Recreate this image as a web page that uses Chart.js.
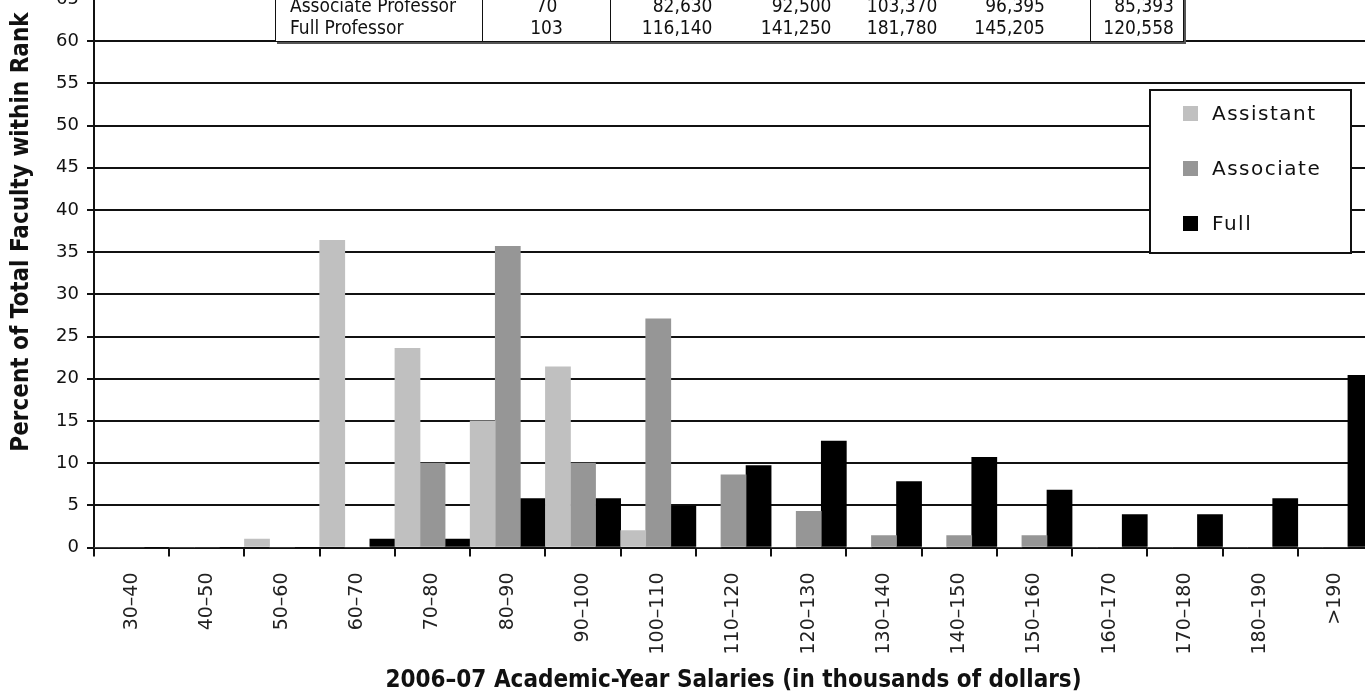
<!DOCTYPE html>
<html>
<head>
<meta charset="utf-8">
<script src="https://cdn.jsdelivr.net/npm/chart.js@4.4.1/dist/chart.umd.min.js"></script>
<style>
  body { margin: 0; background: #fff; overflow: hidden; width: 1365px; height: 695px; position: relative; }
  #wrap { position: absolute; left: 0; top: -13px; width: 1380px; height: 708px; }
  #stats {
    position: absolute; left: 275px; top: -7px; width: 908px;
    border-collapse: collapse; table-layout: fixed; background: #fff;
    border: 1px solid #111; box-shadow: 2px 2px 0 #555;
    font-family: "DejaVu Sans Condensed", "DejaVu Sans", sans-serif; font-size: 19px; color: #111;
  }
  #stats td { height: 22px; line-height: 22px; padding: 0; text-align: right; white-space: nowrap; }
  #stats tr:last-child td { padding-bottom: 3px; }
  #stats td.name { text-align: left; padding-left: 14px; border-right: 1px solid #111; }
  #stats td.count { text-align: center; border-right: 1px solid #111; }
  #stats td.split { border-right: 1px solid #111; }
  #legend {
    position: absolute; left: 1149px; top: 89px; width: 203px; height: 165px;
    box-sizing: border-box; border: 2px solid #111; background: #fff;
    margin: 0; padding: 0; list-style: none;
    font-family: "DejaVu Sans", sans-serif; font-size: 20px; letter-spacing: 1.5px; color: #111;
  }
  #legend li { position: relative; height: 55px; line-height: 55px; padding-left: 61px; }
  #legend li:first-child { margin-top: -5px; }
  #legend li span { position: absolute; left: 32px; top: 20px; width: 15px; height: 15px; }
</style>
</head>
<body>
<div id="wrap"><canvas id="chart" width="1380" height="708"></canvas></div>
<table id="stats">
  <colgroup>
    <col style="width:207px"><col style="width:128px"><col style="width:110px"><col style="width:119px">
    <col style="width:106px"><col style="width:145px"><col style="width:93px">
  </colgroup>
  <tbody id="statsBody"></tbody>
</table>
<ul id="legend"></ul>
<script>
// salary bands, thousands of dollars
const salaryBands = ['30–40', '40–50', '50–60', '60–70', '70–80', '80–90', '90–100', '100–110',
  '110–120', '120–130', '130–140', '140–150', '150–160', '160–170', '170–180', '180–190', '>190'];

// percent of faculty within rank
const assistantPct = [0, 0, 1.0, 36.4, 23.6, 15.0, 21.4, 2.0, 0, 0, 0, 0, 0, 0, 0, 0, 0];
const associatePct = [0, 0, 0, 0, 10.0, 35.7, 10.0, 27.1, 8.6, 4.3, 1.4, 1.4, 1.4, 0, 0, 0, 0];
const fullPct = [0, 0, 0, 1.0, 1.0, 5.8, 5.8, 4.9, 9.7, 12.6, 7.8, 10.7, 6.8, 3.9, 3.9, 5.8, 20.4];

const rankNames = ['Assistant', 'Associate', 'Full'];
const rankColors = ['#c0c0c0', '#969696', '#000000'];

const yMax = 65;
const yStep = 5;

// visible rows of the summary table
const statRows = [
  ['Associate Professor', '70', '82,630', '92,500', '103,370', '96,395', '85,393'],
  ['Full Professor', '103', '116,140', '141,250', '181,780', '145,205', '120,558']
];
const cellPadRight = [0, 0, 8, 8, 8, 45, 9];

const statsBody = document.getElementById('statsBody');
statRows.forEach(row => {
  const tr = document.createElement('tr');
  row.forEach((txt, i) => {
    const td = document.createElement('td');
    td.textContent = txt;
    if (i === 0) td.className = 'name';
    else if (i === 1) td.className = 'count';
    else {
      td.style.paddingRight = cellPadRight[i] + 'px';
      if (i === 5) td.className = 'split';
    }
    tr.appendChild(td);
  });
  statsBody.appendChild(tr);
});

const legendEl = document.getElementById('legend');
rankNames.forEach((name, i) => {
  const li = document.createElement('li');
  const sw = document.createElement('span');
  sw.style.background = rankColors[i];
  li.appendChild(sw);
  li.appendChild(document.createTextNode(name));
  legendEl.appendChild(li);
});

const titleFont = '"DejaVu Sans Condensed", "DejaVu Sans", sans-serif';

const yTitlePlugin = {
  id: 'yTitle',
  afterDraw(chart) {
    const ctx = chart.ctx;
    ctx.save();
    ctx.translate(22, 245);
    ctx.rotate(-Math.PI / 2);
    ctx.font = 'bold 24px ' + titleFont;
    ctx.fillStyle = '#111';
    ctx.textAlign = 'center';
    ctx.textBaseline = 'middle';
    ctx.fillText('Percent of Total Faculty within Rank', 0, 0);
    ctx.restore();
  }
};

const seriesData = [assistantPct, associatePct, fullPct];

new Chart(document.getElementById('chart'), {
  type: 'bar',
  data: {
    labels: salaryBands,
    datasets: seriesData.map((vals, i) => ({
      label: rankNames[i],
      data: vals,
      backgroundColor: rankColors[i],
      borderWidth: 0,
      categoryPercentage: 1,
      barPercentage: 1
    }))
  },
  options: {
    responsive: false,
    animation: false,
    layout: { padding: { top: 12, right: 7, left: 0, bottom: 0 } },
    plugins: { legend: { display: false }, tooltip: { enabled: false } },
    scales: {
      x: {
        grid: { offset: true, drawOnChartArea: false, drawTicks: true, tickLength: 9, color: '#111', lineWidth: 2 },
        border: { display: true, color: '#111', width: 2 },
        ticks: {
          minRotation: 90, maxRotation: 90, autoSkip: false, padding: 16,
          font: { family: 'DejaVu Sans', size: 19 }, color: '#222'
        },
        title: {
          display: true,
          text: '2006–07 Academic-Year Salaries (in thousands of dollars)',
          font: { family: titleFont, size: 24, weight: 'bold', lineHeight: 1.2 },
          color: '#111',
          padding: { top: 0, bottom: 0 }
        },
        afterFit(scale) { scale.height = 147.5; }
      },
      y: {
        min: 0,
        max: yMax,
        ticks: { stepSize: yStep, padding: 8, font: { family: 'DejaVu Sans', size: 18 }, color: '#111' },
        grid: { color: '#111', lineWidth: 2, tickLength: 7 },
        border: { display: true, color: '#111', width: 2 },
        afterFit(scale) {
          scale.width = 94;
          scale.paddingTop = 0;
          scale.paddingBottom = 0;
        }
      }
    }
  },
  plugins: [yTitlePlugin]
});
</script>
</body>
</html>
